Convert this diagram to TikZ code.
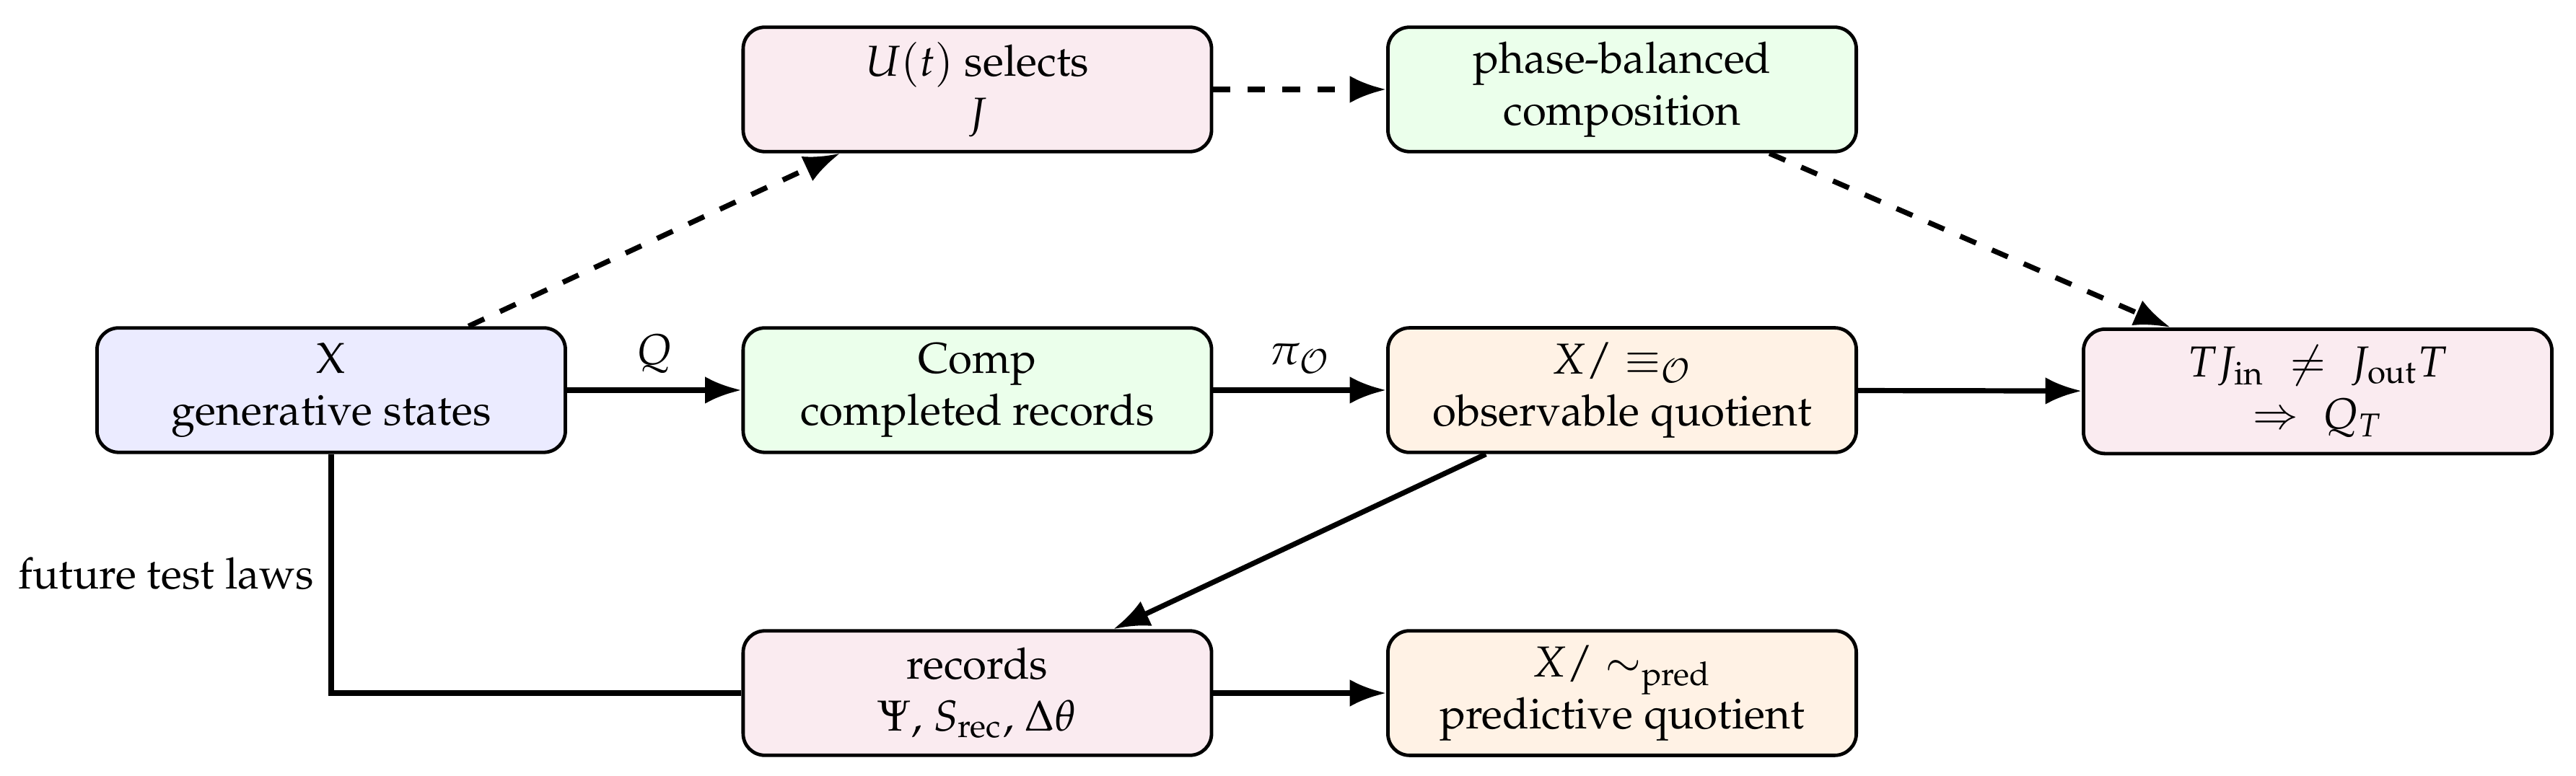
\documentclass[tikz,border=0pt]{standalone}
\usepackage[T1]{fontenc}
\usepackage{mathpazo}
\usepackage{amsmath}
\usepackage{tikz}
\usetikzlibrary{positioning,arrows.meta}

\begin{document}
\begin{tikzpicture}[
    >={Latex},
    % Colors
    cblue/.style={fill=blue!8},
    cgreen/.style={fill=green!8},
    cpink/.style={fill=purple!8},
    corange/.style={fill=orange!10},
    % Box styles
    box/.style={draw, rounded corners=5pt, minimum width=3.80cm, minimum height=1.01cm,
                line width=0.8pt, align=center},
    arrow/.style={->, line width=1.2pt},
    dasharrow/.style={->, line width=1.2pt, dash pattern=on 4pt off 4pt},
    plain/.style={line width=1.2pt},
  ]
  \useasboundingbox (-2.687,-3.132) rectangle (18.212,3.167);

  % ===== Middle row =====
  \node[box, cblue] (gen) at (0, 0) {X\\generative states};
  \node[box, cgreen] (comp) at (5.242, 0) {Comp\\completed records};
  \node[box, corange] (obs) at (10.473, 0) {$X/\equiv_{\mathcal{O}}$\\observable quotient};
  \node[box, cpink] (clash) at (16.116, -0.01) {$T J_{\text{in}} \;\neq\; J_{\text{out}} T$\\$\Rightarrow\; Q_T$};

  % ===== Top row =====
  \node[box, cpink] (sel) at (5.242, 2.441) {$U(t)$ selects\\$J$};
  \node[box, cgreen] (phase) at (10.473, 2.441) {phase-balanced\\composition};

  % ===== Bottom row =====
  \node[box, cpink] (rec) at (5.242, -2.459) {records\\$\Psi$, $S_{\text{rec}}$, $\Delta\theta$};
  \node[box, corange] (pred) at (10.473, -2.459) {$X/\sim_{\text{pred}}$\\predictive quotient};

  % Solid arrows
  \draw[arrow] (gen) -- node[above] {$Q$} (comp);
  \draw[arrow] (comp) -- node[above] {$\pi_{\mathcal{O}}$} (obs);
  \draw[arrow] (obs) -- (clash);
  \draw[arrow] (obs) -- (rec);
  \draw[arrow] (rec) -- (pred);

  % Dashed path over the top
  \draw[dasharrow] (gen) -- (sel);
  \draw[dasharrow] (sel) -- (phase);
  \draw[dasharrow] (phase) -- (clash);

  % Future tests feed the records
  \draw[plain] (gen) |- node[pos=0.25, left] {future test laws} (rec);

\end{tikzpicture}
\end{document}
